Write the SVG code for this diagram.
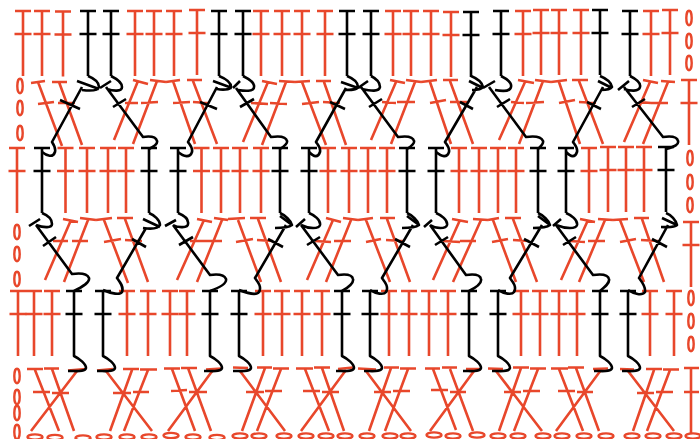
<svg xmlns="http://www.w3.org/2000/svg" width="700" height="439" viewBox="0 0 700 439">
<style>
.r{fill:none;stroke:#E8472B;stroke-width:2.6}
.k{fill:none;stroke:#000;stroke-width:2.6;stroke-linejoin:round}
.o{fill:none;stroke:#E8472B;stroke-width:2.4}
</style>
<defs>
<path id="t" d="M-8 0H8M-8.5 23H8.5M0 0V65"/>
<path id="s" d="M-8 0H8M-8.5 23H8.5M0 0V65C6 68 12 73 12 77C11 81 4 80 -6 80"/>
<ellipse id="ov" cx="0" cy="0" rx="2.7" ry="7.2"/>
<ellipse id="oh" cx="0" cy="0" rx="7.5" ry="2.6"/>
</defs>
<rect width="700" height="439" fill="#fff"/>
<g id="row1-red" class="r">
<use href="#t" x="23" y="11"/><use href="#t" x="42" y="11"/><use href="#t" x="63" y="11.5"/><use href="#t" x="135" y="11"/><use href="#t" x="154" y="11"/><use href="#t" x="174" y="11"/><use href="#t" x="197" y="10"/><use href="#t" x="261" y="11"/><use href="#t" x="282" y="11"/><use href="#t" x="302" y="11"/><use href="#t" x="325" y="11"/><use href="#t" x="393" y="11"/><use href="#t" x="411" y="11"/><use href="#t" x="431" y="11"/><use href="#t" x="451" y="12"/><use href="#t" x="523" y="11"/><use href="#t" x="541" y="10"/><use href="#t" x="559" y="10"/><use href="#t" x="581" y="10"/><use href="#t" x="651" y="11"/><use href="#t" x="670" y="10"/>
</g>
<g id="row1-chain" class="o"><use href="#ov" x="689" y="18"/><use href="#ov" x="689" y="41"/><use href="#ov" x="689" y="63"/></g>
<g id="row2-chain" class="o"><use href="#ov" x="20" y="86"/><use href="#ov" x="20" y="108"/><use href="#ov" x="20" y="133"/></g>
<path id="row2-red" class="r" d="M31 83L45 81M38 82L62 146M38 104L54 102
M52 82H67M59 82L82 145M58 103H75
M133 80L148 84M138 81L114 140M125 103H138
M150 80L166 82M157 81L133 144M141 103L158 102
M166 82L180 80M173 81L195 144M173 103L190 102
M187 80H202M193 81L217 144M193 102L208 103
M262 81L277 84M268 82L243 142M251 103L268 104
M279 81L295 82M286 82L262 145M270 103L287 104
M295 82L310 81M302 82L326 145M302 104L319 102
M316 81H331M324 82L346 145M323 102L340 103
M390 80L405 83M396 82L371 140M382 102L396 103
M406 80L421 82M415 82L391 144M397 102L415 102
M421 82L437 80M430 82L451 144M430 103L446 100
M443 80H458M450 81L473 144M450 102L467 102
M518 80L534 83M525 82L499 140M511 102L524 103
M535 80L551 82M543 81L519 144M526 103L544 102
M551 82L567 80M559 82L580 144M559 103L575 100
M572 80H588M579 81L603 144M579 102L596 103
M643 80L658 83M650 82L624 142M639 102L651 103
M661 81L675 82M668 82L643 144M651 103L668 103"/>
<use id="row2-edge" class="r" href="#t" x="689" y="80"/>
<g id="row3-red" class="r">
<use href="#t" x="17" y="148"/><use href="#t" x="65.5" y="148"/><use href="#t" x="87" y="148"/><use href="#t" x="108" y="148"/><use href="#t" x="126" y="148"/><use href="#t" x="201.5" y="148"/><use href="#t" x="221" y="148"/><use href="#t" x="240" y="148"/><use href="#t" x="261" y="148"/><use href="#t" x="328" y="148"/><use href="#t" x="349" y="148"/><use href="#t" x="368" y="148"/><use href="#t" x="387" y="148"/><use href="#t" x="459" y="148"/><use href="#t" x="479" y="148"/><use href="#t" x="498" y="148"/><use href="#t" x="516" y="148"/><use href="#t" x="589" y="148"/><use href="#t" x="608" y="147"/><use href="#t" x="626" y="147"/><use href="#t" x="644" y="147"/>
</g>
<g id="row3-chain" class="o"><use href="#ov" x="690" y="158"/><use href="#ov" x="690" y="182"/><use href="#ov" x="690" y="205"/></g>
<g id="row4-chain" class="o"><use href="#ov" x="17" y="232"/><use href="#ov" x="17" y="254"/><use href="#ov" x="17" y="279"/></g>
<path id="row4-red" class="r" d="M63 219L78 222M71 220L45 280M53 241H68
M80 218L96 220M88 220L64 282M72 241H88
M96 220L112 218M104 220L128 283M104 242L121 239
M117 218H133M125 219L148 282M125 240L142 241
M197 219L212 222M204 220L177 280M190 241L204 241
M214 218L228 220M222 220L197 282M204 241H222
M228 219L245 218M238 220L261 282M236 242L253 239
M250 218H266M258 219L281 282M257 240L273 241
M326 218L341 222M333 220L307 280M315 241L331 242
M343 218L358 220M351 220L326 282M334 241H351
M358 220L373 218M366 220L390 282M366 242L381 239
M380 218H395M387 219L410 282M386 240L403 241
M452 219L468 222M460 220L433 280M443 241L460 242
M473 219L488 220M481 220L453 282M460 241H476
M488 220L499 218M493 220L516 282M492 242L508 239
M505 218H521M513 219L537 282M513 240L529 241
M580 219L595 222M588 220L561 280M570 241L585 242
M598 219L613 220M605 220L579 282M588 241H605
M613 220L628 219M620 220L644 282M620 242L636 239
M634 218H649M642 219L664 282M641 240L658 241"/>
<use id="row4-edge" class="r" href="#t" x="691" y="222"/>
<g id="row5-red" class="r">
<use href="#t" x="18" y="291"/><use href="#t" x="34" y="291"/><use href="#t" x="52" y="291"/><use href="#t" x="127" y="291"/><use href="#t" x="148" y="291"/><use href="#t" x="170" y="291"/><use href="#t" x="187" y="291"/><use href="#t" x="263" y="291"/><use href="#t" x="282" y="291"/><use href="#t" x="302" y="291"/><use href="#t" x="322" y="291"/><use href="#t" x="389" y="291"/><use href="#t" x="409" y="291"/><use href="#t" x="429" y="291"/><use href="#t" x="448" y="291"/><use href="#t" x="521" y="291"/><use href="#t" x="540" y="291"/><use href="#t" x="559" y="291"/><use href="#t" x="577" y="291"/><use href="#t" x="650" y="291"/><use href="#t" x="674" y="291"/>
</g>
<g id="row5-chain" class="o"><use href="#ov" x="691" y="298"/><use href="#ov" x="691" y="321"/><use href="#ov" x="691" y="344"/></g>
<g id="row6-chain" class="o"><use href="#ov" x="17" y="376"/><use href="#ov" x="17" y="397"/><use href="#ov" x="17" y="413"/><use href="#ov" x="17" y="432"/></g>
<path id="row6-red" class="r" d="M27 369H43M35 370L59 431M33 392H50
M44 368.5H59M52 369L74 431M52 393H69
M68 370.5L86 369M77 371L31 431
M97 370.5L113 369M106 371L152 431M113 393H131
M123 369H139M132 370L110 431
M140 369.5H157M148 370L124 431M133 392H149
M164 368.5H180M172 369L195 431M171 391L187 390
M181 368H197M188 368L211 431M189 392H207
M206 369.5L222 368.5M213 370L168 431
M233 367.5L248 368M240 371L285 431M246 392H264
M257 367.5H272M265 368L242 431
M273 368.5H289M281 369L257 431M265 391H282
M296 368.5H313M305 369L329 431M303 391H320
M314 367.5H330M322 368L344 431M322 392H339
M338 369L353 367.5M346 370L301 431
M358 368.5L376 369.5M366 371L411 431M374 392H391
M384 367.5H399M391 368L369 431
M400 368.5H416M408 369L385 431M393 391H410
M425 368.5H440M433 369L456 430M431 390H448
M442 367.5H457M450 369L473 431M450 392H466
M466 369H481M474 371L430 431
M488 368.5L503 369M496 371L542 431M504 392H521
M513 367.5H529M521 368L499 431
M530 368.5H546M538 369L514 431M523 391H540
M551 368.5H568M559 369L583 431M558 391H575
M568 367.5H584M576 368L599 431M577 392H593
M593 369L608 368.5M601 370L556 431
M620 369L634 369.5M628 371L674 431M637 393H654
M646 369H662M654 370L633 431
M663 369.5H679M670 370L647 431M656 392H673
M684 368H699M691 368V433M684 392H699"/>
<g id="row7-chain" class="o">
<use href="#oh" x="35" y="437"/><use href="#oh" x="55" y="437.5"/><use href="#oh" x="83" y="438"/><use href="#oh" x="104" y="437"/><use href="#oh" x="127" y="437"/><use href="#oh" x="149" y="437"/><use href="#oh" x="171" y="435.5"/><use href="#oh" x="193" y="437"/><use href="#oh" x="217" y="437.5"/><use href="#oh" x="240" y="436"/><use href="#oh" x="259" y="436"/><use href="#oh" x="284" y="436"/><use href="#oh" x="306" y="436"/><use href="#oh" x="326" y="436"/><use href="#oh" x="345" y="436"/><use href="#oh" x="367" y="436"/><use href="#oh" x="390" y="436"/><use href="#oh" x="408" y="436"/><use href="#oh" x="434" y="435"/><use href="#oh" x="453" y="436"/><use href="#oh" x="477" y="435"/><use href="#oh" x="498" y="436"/><use href="#oh" x="518" y="436"/><use href="#oh" x="543" y="436"/><use href="#oh" x="562" y="436"/><use href="#oh" x="584" y="436"/><use href="#oh" x="606" y="436"/><use href="#oh" x="632" y="436"/><use href="#oh" x="653" y="436"/><use href="#oh" x="674" y="436"/><use href="#oh" x="693" y="436"/>
</g>
<g id="black-stems" class="k">
<use href="#t" x="88" y="11"/><use href="#t" x="111" y="11"/><use href="#t" x="219" y="11"/><use href="#t" x="243" y="11"/><use href="#t" x="347" y="11"/><use href="#t" x="371" y="11"/><use href="#t" x="471" y="12"/><use href="#t" x="501" y="11"/><use href="#t" x="600" y="10"/><use href="#t" x="630" y="11"/>
<use href="#t" x="42" y="148"/><use href="#t" x="149" y="148"/><use href="#t" x="178" y="148"/><use href="#t" x="280" y="148"/><use href="#t" x="309" y="148"/><use href="#t" x="407" y="148"/><use href="#t" x="436" y="148"/><use href="#t" x="538" y="148"/><use href="#t" x="566" y="148"/><use href="#t" x="666" y="147"/>
<use href="#s" x="74" y="291"/><use href="#s" x="103" y="291"/><use href="#s" x="210" y="291"/><use href="#s" x="239" y="291"/><use href="#s" x="342" y="291"/><use href="#s" x="370" y="291"/><use href="#s" x="469" y="291"/><use href="#s" x="498" y="291"/><use href="#s" x="600" y="291"/><use href="#s" x="628" y="291"/>
</g>
<path id="row2-black" class="k" d="M88 76C93 78 99 82 99 87C98 91 90 91 82 90M77 81L99 89M82 87L52 142C54 145 56 148 55 152C53 158 47 156 42 152M60 100L80 109
M111 76C117 79 122 83 122 87C122 92 113 91 107 89M100 88L111 81M106 87L143 137C150 136 156 137 157 141C158 144 153 147 149 149M113 107L126 99
M219 76C224 78 231 82 231 87C230 90 222 90 217 89M213 81L232 88M217 87L188 142C190 145 193 148 192 152C190 158 184 157 178 152M200 102L217 109
M243 76C249 79 255 83 254 87C254 92 244 91 238 90M233 88L240 81M236 88L271 137C278 136 286 136 287 141C288 144 283 147 280 149M240 107L254 99
M347 76C352 78 358 82 358 87C357 90 350 90 344 90M341 82L358 88M346 88L316 142C318 145 321 148 320 152C318 158 314 157 309 152M330 102L345 109
M371 76C377 79 380 83 380 87C379 92 371 91 362 89M358 88L368 81M361 87L398 137C405 136 413 136 414 141C415 144 410 147 407 149M369 107L382 99
M471 76C476 78 482 82 483 87C481 90 476 90 472 90M469 81L483 88M477 87L445 142C447 145 450 148 449 152C447 158 442 157 436 152M460 102L473 109
M501 76C507 79 512 83 511 87C510 92 500 91 495 90M483 88L495 81M489 87L526 137C533 136 541 136 543 141C544 144 540 147 538 149M497 107L510 99
M600 76C605 78 611 82 612 87C610 90 605 90 601 90M598 81L612 88M603 87L573 142C575 145 578 148 577 152C575 158 571 157 566 152M587 102L601 109
M630 76C636 79 641 83 640 87C639 92 630 91 624 89M618 90L629 81M624 87L663 137C670 136 677 136 678 141C679 144 675 147 666 149M632 107L645 99"/>
<path id="row4-black" class="k" d="M42 213C47 215 52 219 52 224C52 228 44 228 36 225M29 226L40 219M36 225L72 274C79 273 87 273 89 278C90 282 84 286 74 291M43 246L56 237
M149 213C154 215 160 220 160 225C158 229 150 229 143 228M143 219L160 227M146 228L117 278C120 282 124 287 122 292C120 295 112 294 103 290M132 239L146 247
M178 213C183 215 189 219 188 224C188 228 178 228 173 225M165 226L176 220M173 225L210 275C217 274 224 274 226 279C227 283 221 287 210 291M179 245L193 237
M280 213C285 215 291 221 292 225C288 228 282 228 275 228M280 216L292 225M286 225L255 278C258 282 262 287 259 292C257 295 249 294 239 290M268 239L283 247
M309 213C314 215 321 220 320 225C319 229 309 229 301 225M296 227L305 219M301 225L338 275C345 274 352 274 353 279C354 283 349 287 342 291M307 245L320 237
M407 213C412 215 418 221 419 225C415 228 409 228 402 228M407 216L419 225M413 225L382 278C385 282 389 287 386 292C384 295 376 294 370 290M395 239L410 247
M436 213C441 215 448 220 447 225C446 229 436 229 430 225M424 227L432 220M430 225L466 275C473 274 480 274 481 279C482 283 477 287 469 291M435 245L448 237
M538 213C543 215 549 221 550 225C546 228 540 228 533 228M538 216L550 225M542 225L510 278C513 282 517 287 514 292C512 295 504 294 498 290M524 239L539 247
M566 213C571 215 578 220 577 225C576 229 566 229 556 225M553 226L561 219M556 225L593 275C600 274 608 274 609 279C610 283 605 287 600 291M563 245L576 237
M666 213C671 215 676 220 677 225C674 228 668 227 661 227M662 218L677 225M668 225L639 278C642 282 646 287 645 292C642 296 634 294 628 290M652 239L667 247"/>
</svg>
